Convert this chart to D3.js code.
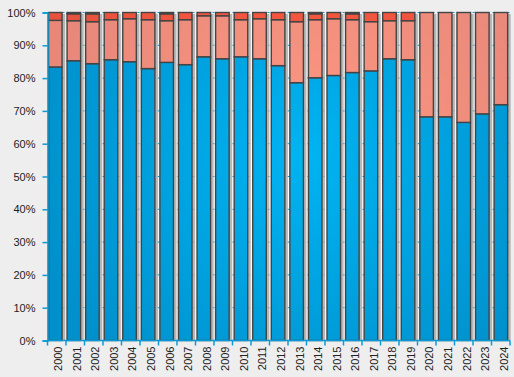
<!DOCTYPE html>
<html>
<head>
<meta charset="utf-8">
<script src="https://cdn.jsdelivr.net/npm/d3@7"></script>
<style>
  html, body { margin: 0; padding: 0; background: #eeeeee; }
  svg { display: block; }
  .axis text { font-family: "Liberation Sans", Arial, sans-serif; font-size: 11px; fill: #222; }
</style>
</head>
<body>
<svg id="chart" width="514" height="377"></svg>
<script>
// ── data (percent shares per year) ──
const years = ['2000','2001','2002','2003','2004','2005','2006','2007','2008','2009','2010','2011','2012',
  '2013','2014','2015','2016','2017','2018','2019','2020','2021','2022','2023','2024'];
const blueShare = [83.4,85.3,84.4,85.6,85.0,82.9,84.8,84.1,86.5,85.9,86.5,85.9,83.8,
  78.6,80.1,80.8,81.7,82.2,85.9,85.6,68.2,68.2,66.5,69.1,71.9];
const salmonShare = [14.2,12.2,12.8,12.2,13.1,14.9,12.7,13.7,12.5,13.1,11.3,12.2,14.0,
  18.6,17.7,17.3,16.1,15.0,11.6,11.9,31.8,31.8,33.5,30.9,28.1];
const redShare = [2.4,2.1,2.4,2.2,1.9,2.2,2.1,2.2,1.0,1.0,2.2,1.9,2.2,
  2.8,1.8,1.9,1.8,2.8,2.5,2.5,0,0,0,0,0];
const darkShare = [0,0.4,0.4,0,0,0,0.4,0,0,0,0,0,0,
  0,0.4,0,0.4,0,0,0,0,0,0,0,0];
const yTicks = [0,10,20,30,40,50,60,70,80,90,100];

const keys = ['blue','salmon','red','dark'];
const rows = years.map((y, i) => ({
  year: y, blue: blueShare[i], salmon: salmonShare[i], red: redShare[i], dark: darkShare[i]
}));

// light in the middle, darker toward the plot edges
const SHADES = {
  blue:   ['#00b4f2', '#0090cc'],
  salmon: ['#ff9882', '#e6877a'],
  red:    ['#ff5a40', '#e6523e'],
  dark:   ['#7a3a32', '#5a2a24']
};

const margin = { top: 12.5, right: 4, bottom: 36.5, left: 47.5 };
const svgW = 514, svgH = 377;
const W = svgW - margin.left - margin.right;
const H = svgH - margin.top - margin.bottom;

const svg = d3.select('#chart');
const defs = svg.append('defs');

keys.forEach(k => {
  const gr = defs.append('radialGradient')
    .attr('id', 'grad-' + k)
    .attr('gradientUnits', 'userSpaceOnUse')
    .attr('cx', margin.left + W * 0.45).attr('cy', margin.top + H * 0.4)
    .attr('r', W * 0.6);
  gr.append('stop').attr('offset', '0%').attr('stop-color', SHADES[k][0]);
  gr.append('stop').attr('offset', '100%').attr('stop-color', SHADES[k][1]);
});

const bg = defs.append('radialGradient')
  .attr('id', 'grad-bg')
  .attr('gradientUnits', 'userSpaceOnUse')
  .attr('cx', margin.left + W * 0.4).attr('cy', margin.top + H * 0.5)
  .attr('r', W * 0.6);
bg.append('stop').attr('offset', '0%').attr('stop-color', '#ffffff');
bg.append('stop').attr('offset', '100%').attr('stop-color', '#ececec');

const g = svg.append('g').attr('transform', `translate(${margin.left},${margin.top})`);

const x = d3.scaleBand().domain(years).range([0, W]).paddingInner(0.27).paddingOuter(0.09).align(0.3);
const xEdge = d3.scaleLinear().domain([0, years.length]).range([0, W]);
const y = d3.scaleLinear().domain([0, 100]).range([H, 0]);

// plot background
g.append('rect')
  .attr('width', W).attr('height', H)
  .attr('fill', 'url(#grad-bg)');

// dashed grid
g.append('g')
  .selectAll('line')
  .data(yTicks.slice(1))
  .enter().append('line')
    .attr('x1', 0).attr('x2', W)
    .attr('y1', d => y(d)).attr('y2', d => y(d))
    .attr('stroke', '#0a9ad8')
    .attr('stroke-width', 1)
    .attr('stroke-dasharray', '2,3');

// bar shadows
g.append('g')
  .selectAll('rect')
  .data(rows)
  .enter().append('rect')
    .attr('x', d => x(d.year) + x.bandwidth())
    .attr('y', y(100) + 1.5)
    .attr('width', 3)
    .attr('height', H - 1.5)
    .attr('fill', '#a8a8a8')
    .attr('opacity', 0.8);

// stacked bars
const stacked = d3.stack().keys(keys)(rows);

const layers = g.append('g').selectAll('g')
  .data(stacked)
  .enter().append('g')
    .attr('fill', d => `url(#grad-${d.key})`);

layers.selectAll('rect')
  .data(d => d.filter(s => s[1] - s[0] > 0))
  .enter().append('rect')
    .attr('x', d => x(d.data.year))
    .attr('y', d => y(d[1]))
    .attr('width', x.bandwidth())
    .attr('height', d => y(d[0]) - y(d[1]))
    .attr('stroke', '#444')
    .attr('stroke-width', 1.4);

// y axis
const yAxis = g.append('g').attr('class', 'axis')
  .call(d3.axisLeft(y).tickValues(yTicks).tickSize(5).tickPadding(7).tickFormat(d => d + '%'));
yAxis.select('.domain').attr('stroke', '#0a9ad8').attr('stroke-width', 1.5);
yAxis.selectAll('.tick line').attr('stroke', '#0a9ad8').attr('stroke-width', 1.5);

// x axis: base line, boundary ticks, year labels
const xAxis = g.append('g').attr('class', 'axis').attr('transform', `translate(0,${H})`);
xAxis.append('line')
  .attr('x1', 0).attr('x2', W)
  .attr('stroke', '#0a9ad8').attr('stroke-width', 1.5);
xAxis.selectAll('.edge')
  .data(d3.range(years.length + 1))
  .enter().append('line')
    .attr('class', 'edge')
    .attr('x1', d => xEdge(d)).attr('x2', d => xEdge(d))
    .attr('y1', 0).attr('y2', 5)
    .attr('stroke', '#0a9ad8').attr('stroke-width', 1.5);
xAxis.selectAll('.year')
  .data(years)
  .enter().append('text')
    .attr('class', 'year')
    .attr('transform', d => `translate(${x(d) + x.bandwidth() / 2 + 3},6) rotate(-90)`)
    .attr('text-anchor', 'end')
    .attr('dy', '0.35em')
    .text(d => d);
</script>
</body>
</html>
